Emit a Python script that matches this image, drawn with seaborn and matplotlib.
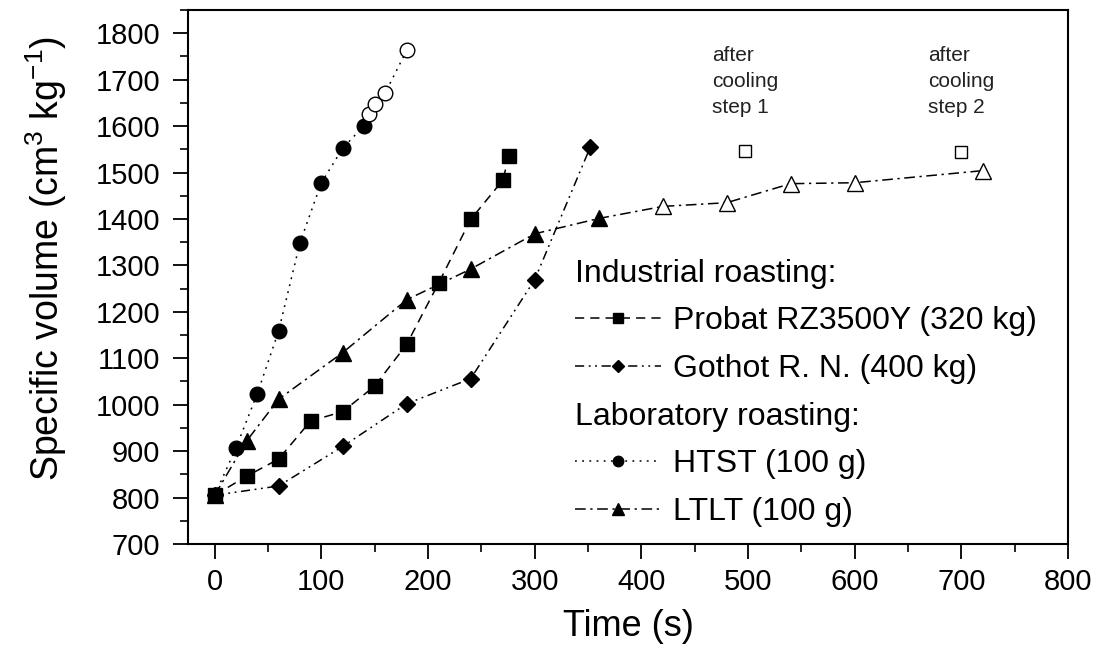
import numpy as np
import pandas as pd
import matplotlib
matplotlib.use("Agg")
import matplotlib.pyplot as plt
import seaborn as sns
from matplotlib.lines import Line2D
from matplotlib.ticker import MultipleLocator

# ---------------- data ----------------
probat_t = [0, 30, 60, 90, 120, 150, 180, 210, 240, 270, 276]
probat_v = [805, 846, 883, 965, 985, 1040, 1130, 1262, 1399, 1483, 1536]

gothot_t = [0, 60, 120, 180, 240, 300, 352]
gothot_v = [805, 825, 910, 1002, 1056, 1269, 1554]

htst_t = [0, 20, 40, 60, 80, 100, 120, 140, 145, 150, 160, 180]
htst_v = [805, 907, 1024, 1159, 1349, 1478, 1552, 1601, 1625, 1648, 1672, 1763]
htst_phase = ["roast"] * 8 + ["cooled"] * 4

ltlt_t = [0, 30, 60, 120, 180, 240, 300, 360, 420, 480, 540, 600, 720]
ltlt_v = [805, 922, 1012, 1112, 1226, 1292, 1368, 1401, 1427, 1435, 1476, 1478, 1504]
ltlt_phase = ["roast"] * 8 + ["cooled"] * 5

cool_t = [497, 700]
cool_v = [1547, 1544]
cool_labels = ["after\ncooling\nstep 1", "after\ncooling\nstep 2"]

x_ticks = [0, 100, 200, 300, 400, 500, 600, 700, 800]
y_ticks = [700, 800, 900, 1000, 1100, 1200, 1300, 1400, 1500, 1600, 1700, 1800]

legend_labels = ["Industrial roasting:", "Probat RZ3500Y (320 kg)", "Gothot R. N. (400 kg)",
                 "Laboratory roasting:", "HTST (100 g)", "LTLT (100 g)"]

# ---------------- style ----------------
sns.set_theme(style="ticks")
plt.rcParams['font.family'] = ['Liberation Sans', 'DejaVu Sans']
plt.rcParams['mathtext.default'] = 'regular'
plt.rcParams['text.color'] = 'black'
plt.rcParams['axes.labelcolor'] = 'black'
plt.rcParams['xtick.color'] = 'black'
plt.rcParams['ytick.color'] = 'black'

fig = plt.figure(figsize=(11.04, 6.64), dpi=100)
ax = fig.add_axes([188 / 1104, 120 / 664, 880 / 1104, 534 / 664])

LW = 1.1
D_PROBAT = (6, 4)
D_GOTHOT = (6, 3, 1.2, 3, 1.2, 3)
D_HTST = (1.2, 3.5)
D_LTLT = (7, 3, 1.5, 3)


def draw_line(t, v, dashes):
    df = pd.DataFrame({"t": t, "v": v})
    sns.lineplot(data=df, x="t", y="v", ax=ax, color="black", linewidth=LW,
                 sort=False, estimator=None)
    ax.lines[-1].set_dashes(dashes)


def draw_markers(t, v, marker, ms, filled=True):
    df = pd.DataFrame({"t": t, "v": v})
    sns.lineplot(data=df, x="t", y="v", ax=ax, color="black", linestyle="",
                 marker=marker, markersize=ms, markeredgecolor="black",
                 markeredgewidth=1.0,
                 markerfacecolor="black" if filled else "white",
                 sort=False, estimator=None)


# Probat
draw_line(probat_t, probat_v, D_PROBAT)
draw_markers(probat_t, probat_v, "s", 10)
# Gothot
draw_line(gothot_t, gothot_v, D_GOTHOT)
draw_markers(gothot_t, gothot_v, "D", 8.5)
# HTST
draw_line(htst_t, htst_v, D_HTST)
h_r = [i for i, p in enumerate(htst_phase) if p == "roast"]
h_c = [i for i, p in enumerate(htst_phase) if p == "cooled"]
draw_markers([htst_t[i] for i in h_r], [htst_v[i] for i in h_r], "o", 10.5)
draw_markers([htst_t[i] for i in h_c], [htst_v[i] for i in h_c], "o", 10.5, filled=False)
# LTLT
draw_line(ltlt_t, ltlt_v, D_LTLT)
l_r = [i for i, p in enumerate(ltlt_phase) if p == "roast"]
l_c = [i for i, p in enumerate(ltlt_phase) if p == "cooled"]
draw_markers([ltlt_t[i] for i in l_r], [ltlt_v[i] for i in l_r], "^", 11.5)
draw_markers([ltlt_t[i] for i in l_c], [ltlt_v[i] for i in l_c], "^", 11.5, filled=False)
# after cooling squares
draw_markers(cool_t, cool_v, "s", 9, filled=False)

for t, lab in zip(cool_t, cool_labels):
    ax.text(t - 31, 1772, lab, ha="left", va="top", fontsize=15, linespacing=1.45,
            color="#222222")

# ---------------- axes ----------------
ax.set_xlim(-25, 800)
ax.set_ylim(700, 1850)
ax.set_xticks(x_ticks)
ax.set_yticks(y_ticks)
ax.xaxis.set_minor_locator(MultipleLocator(50))
ax.yaxis.set_minor_locator(MultipleLocator(50))
ax.tick_params(axis="both", which="major", direction="out", length=11, width=1.3,
               labelsize=21, colors="black")
ax.tick_params(axis="both", which="minor", direction="out", length=6, width=1.2)
ax.tick_params(axis="x", which="major", pad=6)
ax.tick_params(axis="y", which="major", pad=9)
for s in ax.spines.values():
    s.set_visible(True)
    s.set_linewidth(1.5)
    s.set_color("black")
ax.set_xlabel("Time (s)", fontsize=26, labelpad=10)
ax.set_ylabel("Specific volume (cm$^3$ kg$^{-1}$)", fontsize=27)
ax.yaxis.set_label_coords(-0.135, 0.535)
ax.set_facecolor("white")
fig.patch.set_facecolor("white")

# ---------------- legend ----------------
blank = Line2D([], [], linestyle="none", marker=None)
h_probat = Line2D([], [], color="black", lw=LW, dashes=D_PROBAT, marker="s", ms=7, mfc="black", mec="black")
h_gothot = Line2D([], [], color="black", lw=LW, dashes=D_GOTHOT, marker="D", ms=6.5, mfc="black", mec="black")
h_htst = Line2D([], [], color="black", lw=LW, dashes=D_HTST, marker="o", ms=7.5, mfc="black", mec="black")
h_ltlt = Line2D([], [], color="black", lw=LW, dashes=D_LTLT, marker="^", ms=8, mfc="black", mec="black")
handles = [blank, h_probat, h_gothot, blank, h_htst, h_ltlt]
leg = ax.legend(handles, legend_labels, loc="upper left", bbox_to_anchor=(0.44, 0.534),
                frameon=False, fontsize=23, handlelength=2.7, handletextpad=0.35,
                labelspacing=0.55, borderaxespad=0, borderpad=0, numpoints=1)
headers = {legend_labels[0], legend_labels[3]}
for col in leg._legend_handle_box.get_children():
    for row in col.get_children():
        ch = row.get_children()
        if len(ch) == 2 and ch[1].get_text() in headers:
            row._children = [ch[1]]

fig.savefig("out.png", dpi=100, facecolor="white")
